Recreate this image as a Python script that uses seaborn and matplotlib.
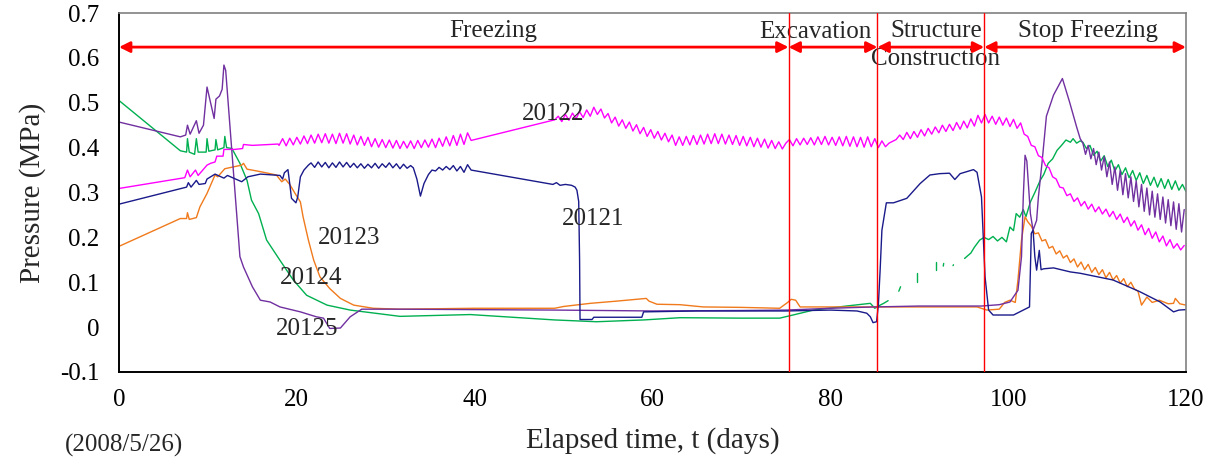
import numpy as np
import pandas as pd
import matplotlib
matplotlib.use("Agg")
import matplotlib.pyplot as plt
import seaborn as sns
from matplotlib.ticker import MultipleLocator, FuncFormatter

# ---------------- data (days, MPa) ----------------
# 20121 (navy)
N21_A_DAYS = [0, 7.6, 7.8, 8.1, 8.7, 9.0, 9.7, 9.9, 10.8, 11.6, 11.8, 12.2, 13.8, 14.5, 15.9, 18.1, 18.4, 18.6,
              19.0, 19.2, 19.4, 19.9, 20.1, 20.4, 20.8, 21.3]
N21_A_VALS = [0.274, 0.312, 0.322, 0.312, 0.327, 0.318, 0.320, 0.330, 0.341, 0.334, 0.332, 0.338, 0.324, 0.335,
              0.341, 0.338, 0.330, 0.344, 0.351, 0.320, 0.287, 0.277, 0.290, 0.335, 0.350, 0.361]
N21_Z1_START, N21_Z1_STEP = 21.6, 0.4
N21_Z1 = [0.366, 0.356, 0.368, 0.357, 0.367, 0.355, 0.366, 0.356, 0.368, 0.357, 0.367, 0.356, 0.365, 0.355,
          0.364, 0.354, 0.363, 0.355, 0.365, 0.354, 0.364, 0.356, 0.366, 0.355, 0.364, 0.353, 0.363, 0.354, 0.360]
N21_B_DAYS = [33.1, 33.5, 33.9, 34.3, 34.8, 35.2]
N21_B_VALS = [0.355, 0.330, 0.292, 0.320, 0.340, 0.350]
N21_Z2_START, N21_Z2_STEP = 35.6, 0.4
N21_Z2 = [0.348, 0.356, 0.350, 0.358, 0.351, 0.360, 0.348, 0.358, 0.345, 0.362, 0.350]
N21_C_DAYS = [48.8, 49.2, 49.6, 50.2, 50.9, 51.3, 51.5, 51.7, 51.8, 51.85, 53.2, 53.4, 58.8, 59.0, 65.0, 75.0,
              80.0, 83.0, 84.1, 84.5, 84.8, 85.2, 85.4, 85.6, 85.8, 86.3, 87.1, 88.6, 90.1, 91.2, 92.3, 93.4,
              94.0, 94.6, 96.1, 96.5, 97.0, 97.4, 97.8, 98.3, 100.6, 102.4, 102.6, 102.8, 103.0, 103.2, 103.5,
              103.7, 104.0, 105.1, 107.0, 108.1, 111.8, 114.8, 117.1, 118.6, 119.2, 120.0]
N21_C_VALS = [0.318, 0.322, 0.316, 0.318, 0.316, 0.312, 0.305, 0.280, 0.150, 0.017, 0.017, 0.022, 0.022, 0.034,
              0.036, 0.036, 0.038, 0.036, 0.031, 0.023, 0.010, 0.012, 0.049, 0.127, 0.216, 0.277, 0.277, 0.287,
              0.320, 0.339, 0.342, 0.343, 0.329, 0.342, 0.351, 0.345, 0.290, 0.112, 0.038, 0.027, 0.027, 0.045,
              0.209, 0.216, 0.157, 0.127, 0.171, 0.128, 0.130, 0.132, 0.123, 0.120, 0.105, 0.079, 0.056, 0.034,
              0.038, 0.039]

# 20122 (magenta)
M22_A_DAYS = [0, 7.4, 7.7, 8.0, 8.6, 8.9, 9.9, 10.3, 10.8, 11.0, 11.7, 11.8, 13.0, 13.9, 14.0, 15.0, 17.9]
M22_A_VALS = [0.309, 0.333, 0.350, 0.335, 0.350, 0.338, 0.361, 0.365, 0.368, 0.381, 0.381, 0.396, 0.396, 0.398,
              0.407, 0.405, 0.408]
M22_Z1_START, M22_Z1_STEP = 18.0, 0.4
M22_Z1 = [0.405, 0.420, 0.404, 0.421, 0.406, 0.423, 0.408, 0.426, 0.409, 0.428, 0.410, 0.430, 0.411, 0.431,
          0.410, 0.430, 0.409, 0.432, 0.410, 0.431, 0.408, 0.428, 0.406, 0.425, 0.405, 0.423, 0.402, 0.420,
          0.401, 0.418, 0.400, 0.417, 0.399, 0.416, 0.398, 0.414, 0.399, 0.415, 0.398, 0.416, 0.400, 0.417,
          0.401, 0.419, 0.400, 0.421, 0.403, 0.424, 0.404, 0.427, 0.405, 0.430, 0.407, 0.433, 0.416]
M22_Z2_START, M22_Z2_STEP = 49.0, 0.4
M22_Z2 = [0.462, 0.470, 0.458, 0.474, 0.461, 0.477, 0.464, 0.480, 0.467, 0.484, 0.470, 0.490, 0.474, 0.486,
          0.466, 0.476, 0.455, 0.468, 0.448, 0.462, 0.443, 0.457, 0.437, 0.451, 0.431, 0.445, 0.425, 0.440,
          0.421, 0.436, 0.417, 0.432, 0.413, 0.428, 0.405, 0.424, 0.405, 0.425, 0.406, 0.427, 0.407, 0.428,
          0.408, 0.430, 0.409, 0.431, 0.409, 0.430, 0.408, 0.428, 0.407, 0.427, 0.405, 0.425, 0.404, 0.423,
          0.402, 0.421, 0.401, 0.419, 0.399, 0.416, 0.398, 0.413, 0.397, 0.410]
M22_Z3_START, M22_Z3_STEP = 75.4, 0.4
M22_Z3 = [0.418, 0.404, 0.420, 0.406, 0.421, 0.407, 0.422, 0.406, 0.424, 0.407, 0.425, 0.406, 0.423, 0.405,
          0.424, 0.404, 0.425, 0.403, 0.424, 0.402, 0.423, 0.401, 0.424, 0.402, 0.420, 0.400, 0.415, 0.402,
          0.410, 0.414, 0.418, 0.428, 0.418, 0.434, 0.420, 0.436, 0.423, 0.440, 0.426, 0.443, 0.430, 0.446,
          0.433, 0.450, 0.436, 0.452, 0.438, 0.456, 0.441, 0.459, 0.444, 0.464, 0.448, 0.472, 0.455, 0.474,
          0.455, 0.470, 0.452, 0.468, 0.450, 0.466, 0.447, 0.463, 0.443, 0.455, 0.430, 0.425, 0.405, 0.402,
          0.382, 0.378, 0.360, 0.355, 0.335, 0.330, 0.312, 0.310, 0.293, 0.297, 0.280, 0.288, 0.270, 0.280,
          0.263, 0.274, 0.257, 0.268, 0.252, 0.263, 0.246, 0.258, 0.240, 0.252, 0.233, 0.245, 0.225, 0.237,
          0.216, 0.228, 0.206, 0.220, 0.198, 0.212, 0.190, 0.203, 0.181, 0.195, 0.176, 0.186, 0.172, 0.182]

# 20123 (orange)
O23_A_DAYS = [0, 6.9, 7.6, 7.7, 7.9, 8.7, 9.1, 9.9, 10.8, 11.1, 11.9, 13.8, 14.0, 14.4, 15.5, 16.5, 17.7, 18.3,
              18.7, 19.2, 19.8, 20.4, 20.7, 21.3, 21.9, 22.6, 23.7, 24.9, 26.4, 28.6, 31.6, 40.0, 49.0, 50.0,
              53.0, 56.0, 59.3, 59.6, 60.5, 63.1, 65.7, 70.0, 74.3, 75.2, 75.6, 76.1, 76.6, 80.0, 90.0, 96.5,
              97.6, 99.0, 99.6, 100.2, 100.8, 101.1, 101.5, 101.9, 102.2]
O23_A_VALS = [0.180, 0.242, 0.242, 0.255, 0.240, 0.244, 0.268, 0.298, 0.339, 0.335, 0.353, 0.361, 0.365, 0.352,
              0.348, 0.344, 0.339, 0.324, 0.330, 0.318, 0.298, 0.279, 0.246, 0.194, 0.149, 0.112, 0.086, 0.064,
              0.049, 0.042, 0.040, 0.042, 0.042, 0.046, 0.053, 0.058, 0.064, 0.058, 0.051, 0.050, 0.045, 0.044,
              0.042, 0.055, 0.062, 0.060, 0.045, 0.045, 0.045, 0.045, 0.038, 0.040, 0.055, 0.060, 0.055, 0.105,
              0.194, 0.246, 0.235]
O23_Z_START, O23_Z_STEP = 102.6, 0.4
O23_Z = [0.225, 0.208, 0.210, 0.192, 0.195, 0.176, 0.180, 0.163, 0.170, 0.154, 0.160, 0.144, 0.152, 0.134,
         0.145, 0.128, 0.140, 0.122, 0.133, 0.117, 0.128, 0.110, 0.122, 0.105, 0.115, 0.098, 0.108, 0.090,
         0.100, 0.085]
O23_B_DAYS = [114.6, 115.0, 115.6, 116.2, 117.0, 118.0, 118.6, 118.8, 119.3, 120.0]
O23_B_VALS = [0.080, 0.049, 0.067, 0.055, 0.060, 0.052, 0.053, 0.064, 0.052, 0.049]

# 20124 (green)
G24_A_DAYS = [0, 6.9, 7.6, 7.7, 7.9, 8.5, 8.7, 8.9, 9.8, 9.9, 10.1, 10.8, 10.9, 11.1, 11.8, 11.9, 12.1, 12.7,
              13.6, 14.4, 14.9, 15.7, 16.6, 18.1, 19.6, 21.1, 23.4, 26.0, 31.6, 39.5, 49.0, 53.7, 59.0, 63.1,
              70.0, 74.3, 75.8, 78.1, 81.8, 84.5, 85.0, 85.5, 86.0, 86.5]
G24_A_VALS = [0.505, 0.393, 0.390, 0.420, 0.390, 0.385, 0.420, 0.390, 0.390, 0.420, 0.392, 0.395, 0.418, 0.395,
              0.400, 0.425, 0.400, 0.398, 0.365, 0.327, 0.283, 0.253, 0.194, 0.149, 0.105, 0.071, 0.049, 0.038,
              0.024, 0.028, 0.016, 0.012, 0.016, 0.021, 0.020, 0.020, 0.027, 0.038, 0.047, 0.053, 0.042, 0.048,
              0.053, 0.059]
G24_FRAG_DAYS = [[87.7, 87.9], [89.8, 89.8], [91.9, 91.9], [92.7, 92.75], [93.8, 93.85]]
G24_FRAG_VALS = [[0.080, 0.090], [0.100, 0.120], [0.127, 0.145], [0.136, 0.142], [0.137, 0.139]]
G24_B_DAYS = [95.1, 95.5, 95.8, 96.2, 96.8, 97.3, 97.8, 98.3, 98.8, 99.3, 99.8, 100.2, 100.6, 100.9, 101.3,
              101.7, 102.0, 102.5, 103.0, 103.6, 104.0, 104.5, 105.0, 105.5, 106.0, 106.5, 107.0, 107.3, 107.7,
              108.1]
G24_B_VALS = [0.153, 0.160, 0.165, 0.178, 0.194, 0.200, 0.195, 0.202, 0.192, 0.200, 0.190, 0.223, 0.215, 0.253,
              0.245, 0.262, 0.246, 0.279, 0.300, 0.327, 0.340, 0.365, 0.375, 0.394, 0.405, 0.417, 0.412, 0.420,
              0.410, 0.415]
G24_Z_START, G24_Z_STEP = 108.4, 0.4
G24_Z = [0.412, 0.398, 0.405, 0.383, 0.392, 0.370, 0.382, 0.358, 0.372, 0.348, 0.362, 0.340, 0.355, 0.333,
         0.349, 0.327, 0.344, 0.320, 0.338, 0.316, 0.334, 0.312, 0.331, 0.309, 0.329, 0.307, 0.326, 0.305,
         0.318, 0.302]

# 20125 (purple)
P25_A_DAYS = [0, 6.9, 7.5, 7.7, 8.0, 8.7, 9.0, 9.5, 9.9, 10.7, 10.9, 11.3, 11.6, 11.8, 12.0, 12.6, 13.2, 13.6,
              14.0, 15.0, 15.9, 17.0, 18.1, 20.4, 22.2, 23.0, 23.7, 24.9, 26.0, 27.3, 31.6, 40.0, 49.0, 60.0,
              70.0, 75.0, 80.0, 85.0, 90.0, 97.0, 99.0, 100.2, 101.1, 101.5, 101.7, 101.9, 102.1, 102.5, 102.8,
              103.2, 103.4, 103.8, 104.3, 105.1, 106.1, 106.9, 107.7, 108.1]
P25_A_VALS = [0.457, 0.424, 0.428, 0.450, 0.430, 0.460, 0.432, 0.450, 0.535, 0.465, 0.508, 0.515, 0.530, 0.584,
              0.572, 0.416, 0.261, 0.157, 0.134, 0.090, 0.060, 0.056, 0.045, 0.034, 0.023, 0.020, -0.003,
              -0.002, 0.023, 0.040, 0.040, 0.039, 0.038, 0.036, 0.037, 0.038, 0.042, 0.045, 0.047, 0.047, 0.050,
              0.056, 0.082, 0.157, 0.290, 0.383, 0.370, 0.253, 0.216, 0.238, 0.290, 0.365, 0.470, 0.517, 0.554,
              0.502, 0.446, 0.420]
P25_Z_START, P25_Z_STEP = 108.4, 0.3
P25_Z = [0.410, 0.385, 0.405, 0.375, 0.398, 0.362, 0.390, 0.350, 0.380, 0.335, 0.368, 0.318, 0.357, 0.305,
         0.349, 0.295, 0.342, 0.288, 0.335, 0.280, 0.326, 0.268, 0.318, 0.258, 0.310, 0.250, 0.303, 0.245,
         0.297, 0.240, 0.290, 0.232, 0.284, 0.226, 0.279, 0.218, 0.275, 0.212, 0.262]

SERIES_NAMES = ["20121", "20122", "20123", "20124", "20125"]
SERIES_COLORS = ["#1a1a8a", "#ff00ff", "#f07a1c", "#00b050", "#7030a0"]
LABEL_POS = {"20121": (53.3, 0.241), "20122": (48.8, 0.474), "20123": (25.9, 0.199),
             "20124": (21.6, 0.110), "20125": (21.2, -0.004)}

PHASE_BOUNDS = [0, 75.3, 85.3, 97.3, 120]
PHASE_NAMES = ["Freezing", "Excavation", "Structure\nConstruction", "Stop Freezing"]
X_TICKS = [0, 20, 40, 60, 80, 100, 120]


def pts(d, v):
    assert len(d) == len(v), (len(d), len(v))
    return list(d), list(v)


def zig(start, step, v):
    return [start + step * i for i in range(len(v))], list(v)


def join(*parts):
    d, v = [], []
    for pd_, pv in parts:
        d += pd_
        v += pv
    return d, v


segments = {
    "20121": [join(pts(N21_A_DAYS, N21_A_VALS), zig(N21_Z1_START, N21_Z1_STEP, N21_Z1),
                   pts(N21_B_DAYS, N21_B_VALS), zig(N21_Z2_START, N21_Z2_STEP, N21_Z2),
                   pts(N21_C_DAYS, N21_C_VALS))],
    "20122": [join(pts(M22_A_DAYS, M22_A_VALS), zig(M22_Z1_START, M22_Z1_STEP, M22_Z1),
                   zig(M22_Z2_START, M22_Z2_STEP, M22_Z2), zig(M22_Z3_START, M22_Z3_STEP, M22_Z3))],
    "20123": [join(pts(O23_A_DAYS, O23_A_VALS), zig(O23_Z_START, O23_Z_STEP, O23_Z),
                   pts(O23_B_DAYS, O23_B_VALS))],
    "20124": [pts(G24_A_DAYS, G24_A_VALS)] + [pts(d, v) for d, v in zip(G24_FRAG_DAYS, G24_FRAG_VALS)] +
             [join(pts(G24_B_DAYS, G24_B_VALS), zig(G24_Z_START, G24_Z_STEP, G24_Z))],
    "20125": [join(pts(P25_A_DAYS, P25_A_VALS), zig(P25_Z_START, P25_Z_STEP, P25_Z))],
}

rows = []
for name, segs in segments.items():
    for k, (d, v) in enumerate(segs):
        for i, (x, y) in enumerate(zip(d, v)):
            rows.append({"series": name, "seg": f"{name}_{k}", "order": i, "day": x, "p": y})
df = pd.DataFrame(rows)

# ---------------- style ----------------
sns.set_theme(style="white")
plt.rcParams["font.family"] = ["Liberation Serif", "DejaVu Serif"]
plt.rcParams["axes.unicode_minus"] = False

fig = plt.figure(figsize=(12.17, 4.66), dpi=100)
ax = fig.add_axes([119 / 1217, 1 - 372 / 466, (1186 - 119) / 1217, (372 - 13) / 466])

palette = dict(zip(SERIES_NAMES, SERIES_COLORS))
order = ["20124", "20123", "20125", "20122", "20121"]
for name in order:
    sub = df[df.series == name]
    for seg, g in sub.groupby("seg", sort=False):
        sns.lineplot(data=g, x="day", y="p", color=palette[name], lw=1.0, sort=False,
                     estimator=None, ax=ax, legend=False)

ax.set_xlim(0, 120)
ax.set_ylim(-0.1, 0.7)

# phase lines, arrows, texts
ARROW_Y = 0.624
for b in PHASE_BOUNDS[1:-1]:
    ax.axvline(b, color="red", lw=1.0, zorder=5)
for a, b in zip(PHASE_BOUNDS[:-1], PHASE_BOUNDS[1:]):
    ax.annotate("", xy=(b, ARROW_Y), xytext=(a, ARROW_Y),
                arrowprops=dict(arrowstyle="<|-|>", color="red", lw=2.0, mutation_scale=16,
                                shrinkA=0, shrinkB=0), annotation_clip=False, zorder=6)

FS = 18
ax.text(42.1, 0.661, PHASE_NAMES[0], fontsize=FS, ha="center", va="center")
ax.text(78.3, 0.657, PHASE_NAMES[1], fontsize=FS, ha="center", va="center")
s1, s2 = PHASE_NAMES[2].split("\n")
ax.text(91.9, 0.661, s1, fontsize=FS, ha="center", va="center")
ax.text(91.8, 0.597, s2, fontsize=FS, ha="center", va="center")
ax.text(109.0, 0.661, PHASE_NAMES[3], fontsize=FS, ha="center", va="center")

for name, (lx, ly) in LABEL_POS.items():
    ax.text(lx, ly, name, fontsize=FS, ha="center", va="center")

# axes styling
ax.xaxis.set_major_locator(MultipleLocator(20))
ax.xaxis.set_minor_locator(MultipleLocator(4))
ax.yaxis.set_major_locator(MultipleLocator(0.1))
ax.yaxis.set_minor_locator(MultipleLocator(0.05))
ax.yaxis.set_major_formatter(FuncFormatter(lambda v, p: "0" if abs(v) < 1e-9 else f"{v:.1f}"))
ax.xaxis.set_major_formatter(FuncFormatter(lambda v, p: f"{v:g}"))
ax.tick_params(axis="both", which="major", direction="in", labelsize=FS, colors="black")
ax.tick_params(axis="y", which="major", length=6, width=1.2, pad=14)
ax.tick_params(axis="y", which="minor", direction="in", length=4, width=1.2, color="#444444")
ax.tick_params(axis="x", which="major", length=4.5, width=1.2, pad=12)
ax.tick_params(axis="x", which="minor", direction="in", length=4.5, width=1.2, color="#444444")
ax.tick_params(top=False, right=False, which="both")

for s in ["left", "bottom"]:
    ax.spines[s].set_color("black")
    ax.spines[s].set_linewidth(1.4)
for s in ["top", "right"]:
    ax.spines[s].set_color("#808080")
    ax.spines[s].set_linewidth(1.2)
    ax.spines[s].set_visible(True)

ax.set_xlabel("Elapsed time, t (days)", fontsize=21, labelpad=12)
ax.set_ylabel("Pressure (MPa)", fontsize=21, labelpad=10)
fig.text(124 / 1217, 1 - 445 / 466, "(2008/5/26)", fontsize=FS, ha="center", va="center")

fig.savefig("out.png", dpi=100, facecolor="white")
